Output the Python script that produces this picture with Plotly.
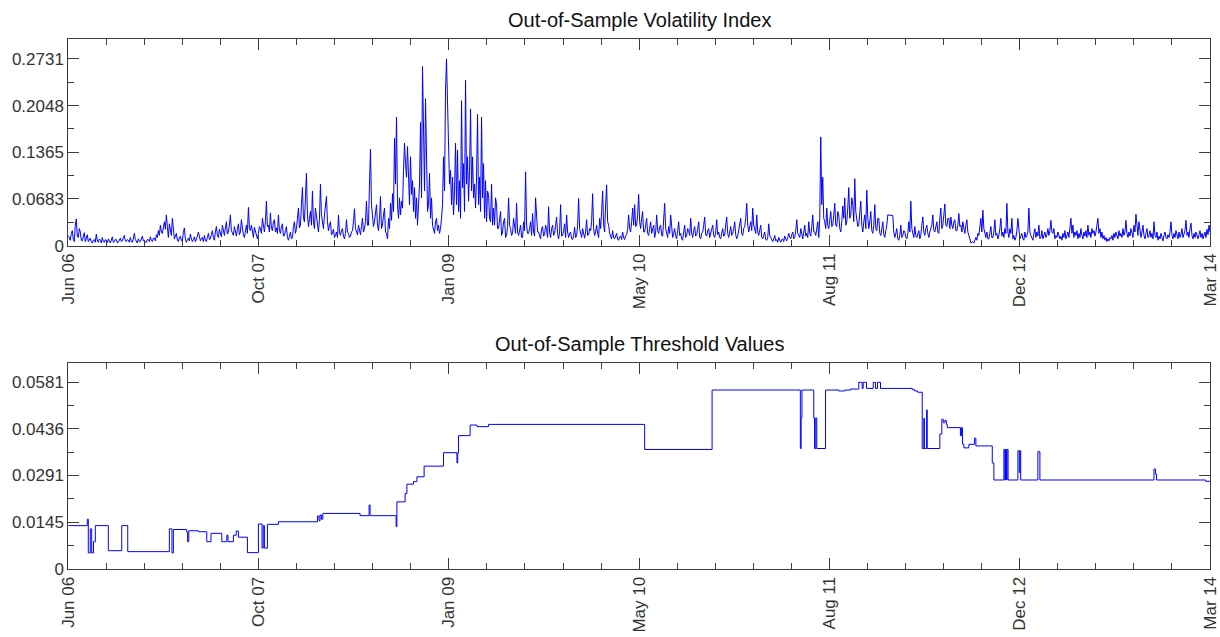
import plotly.graph_objects as go

# Daily out-of-sample volatility index, one value per trading day in the sample
vol_index = [
    0.015, 0.010, 0.008, 0.018, 0.022, 0.009, 0.006, 0.030, 0.039, 0.014, 0.012, 0.025, 0.020, 0.008, 0.007, 0.013, 0.019, 0.006, 0.010, 0.016,
    0.006, 0.009, 0.011, 0.005, 0.004, 0.008, 0.009, 0.005, 0.017, 0.007, 0.005, 0.010, 0.008, 0.004, 0.012, 0.006, 0.005, 0.009, 0.007, 0.004,
    0.010, 0.006, 0.004, 0.008, 0.013, 0.005, 0.006, 0.009, 0.009, 0.004, 0.005, 0.008, 0.011, 0.006, 0.007, 0.012, 0.015, 0.007, 0.006, 0.009,
    0.008, 0.005, 0.012, 0.007, 0.005, 0.010, 0.018, 0.009, 0.007, 0.004, 0.010, 0.006, 0.006, 0.011, 0.014, 0.007, 0.008, 0.005, 0.005, 0.009,
    0.009, 0.006, 0.013, 0.008, 0.006, 0.011, 0.011, 0.007, 0.016, 0.012, 0.022, 0.015, 0.030, 0.020, 0.018, 0.027, 0.035, 0.024, 0.045, 0.028,
    0.012, 0.032, 0.025, 0.015, 0.040, 0.018, 0.010, 0.014, 0.018, 0.008, 0.006, 0.012, 0.014, 0.007, 0.008, 0.019, 0.026, 0.010, 0.005, 0.009,
    0.011, 0.007, 0.017, 0.010, 0.006, 0.009, 0.013, 0.006, 0.009, 0.014, 0.020, 0.010, 0.007, 0.011, 0.012, 0.006, 0.015, 0.008, 0.006, 0.012,
    0.018, 0.009, 0.010, 0.016, 0.022, 0.012, 0.008, 0.020, 0.028, 0.015, 0.012, 0.024, 0.019, 0.013, 0.030, 0.018, 0.015, 0.026, 0.035, 0.017,
    0.020, 0.030, 0.045, 0.022, 0.018, 0.015, 0.028, 0.020, 0.014, 0.024, 0.032, 0.016, 0.020, 0.038, 0.025, 0.015, 0.012, 0.022, 0.030, 0.018,
    0.056, 0.025, 0.022, 0.030, 0.016, 0.012, 0.027, 0.020, 0.013, 0.010, 0.018, 0.028, 0.025, 0.018, 0.040, 0.030, 0.020, 0.035, 0.065, 0.028,
    0.030, 0.020, 0.048, 0.025, 0.022, 0.035, 0.038, 0.020, 0.026, 0.018, 0.045, 0.022, 0.018, 0.028, 0.032, 0.014, 0.015, 0.022, 0.028, 0.012,
    0.008, 0.014, 0.020, 0.010, 0.012, 0.028, 0.035, 0.018, 0.025, 0.040, 0.055, 0.026, 0.030, 0.060, 0.085, 0.040, 0.035, 0.070, 0.106, 0.045,
    0.028, 0.040, 0.050, 0.030, 0.080, 0.035, 0.025, 0.055, 0.045, 0.030, 0.020, 0.038, 0.090, 0.045, 0.030, 0.025, 0.045, 0.060, 0.072, 0.035,
    0.022, 0.030, 0.035, 0.016, 0.018, 0.024, 0.012, 0.015, 0.020, 0.012, 0.045, 0.020, 0.015, 0.022, 0.025, 0.014, 0.010, 0.018, 0.038, 0.020,
    0.018, 0.012, 0.014, 0.020, 0.022, 0.035, 0.054, 0.025, 0.020, 0.016, 0.030, 0.022, 0.016, 0.028, 0.040, 0.020, 0.025, 0.035, 0.065, 0.030,
    0.030, 0.090, 0.141, 0.060, 0.045, 0.028, 0.035, 0.050, 0.060, 0.030, 0.022, 0.040, 0.072, 0.025, 0.030, 0.045, 0.055, 0.020, 0.018, 0.010,
    0.040, 0.025, 0.062, 0.037, 0.076, 0.050, 0.157, 0.090, 0.188, 0.060, 0.040, 0.070, 0.045, 0.065, 0.055, 0.110, 0.150, 0.120, 0.100, 0.145,
    0.085, 0.060, 0.130, 0.075, 0.095, 0.050, 0.085, 0.040, 0.070, 0.030, 0.060, 0.090, 0.180, 0.070, 0.262, 0.120, 0.080, 0.215, 0.095, 0.050,
    0.060, 0.106, 0.040, 0.070, 0.030, 0.025, 0.018, 0.035, 0.040, 0.022, 0.030, 0.018, 0.025, 0.040, 0.060, 0.130, 0.080, 0.228, 0.2731, 0.210,
    0.150, 0.090, 0.110, 0.060, 0.100, 0.045, 0.080, 0.150, 0.060, 0.140, 0.050, 0.095, 0.040, 0.212, 0.085, 0.120, 0.050, 0.242, 0.090, 0.130,
    0.065, 0.110, 0.200, 0.080, 0.130, 0.070, 0.090, 0.055, 0.100, 0.192, 0.060, 0.100, 0.050, 0.188, 0.070, 0.120, 0.040, 0.095, 0.035, 0.080,
    0.075, 0.040, 0.035, 0.090, 0.030, 0.055, 0.030, 0.070, 0.060, 0.025, 0.025, 0.040, 0.050, 0.015, 0.020, 0.035, 0.040, 0.012, 0.015, 0.028,
    0.070, 0.030, 0.025, 0.015, 0.018, 0.040, 0.028, 0.018, 0.062, 0.020, 0.015, 0.025, 0.030, 0.012, 0.012, 0.035, 0.022, 0.108, 0.030, 0.018,
    0.018, 0.025, 0.035, 0.015, 0.047, 0.020, 0.014, 0.070, 0.030, 0.020, 0.020, 0.012, 0.010, 0.025, 0.028, 0.014, 0.016, 0.030, 0.024, 0.012,
    0.057, 0.020, 0.012, 0.025, 0.030, 0.015, 0.018, 0.030, 0.042, 0.018, 0.010, 0.020, 0.060, 0.014, 0.015, 0.022, 0.032, 0.012, 0.045, 0.020,
    0.012, 0.018, 0.020, 0.010, 0.009, 0.015, 0.027, 0.012, 0.014, 0.030, 0.069, 0.025, 0.018, 0.012, 0.025, 0.016, 0.011, 0.020, 0.038, 0.015,
    0.016, 0.025, 0.022, 0.035, 0.076, 0.025, 0.015, 0.020, 0.030, 0.018, 0.012, 0.040, 0.025, 0.050, 0.080, 0.030, 0.020, 0.060, 0.089, 0.035,
    0.030, 0.018, 0.015, 0.010, 0.022, 0.012, 0.010, 0.016, 0.018, 0.009, 0.008, 0.013, 0.014, 0.009, 0.020, 0.012, 0.009, 0.015, 0.016, 0.024,
    0.045, 0.025, 0.020, 0.035, 0.055, 0.030, 0.060, 0.028, 0.030, 0.045, 0.075, 0.035, 0.025, 0.040, 0.050, 0.020, 0.020, 0.030, 0.040, 0.018,
    0.015, 0.025, 0.035, 0.018, 0.025, 0.030, 0.012, 0.020, 0.045, 0.022, 0.018, 0.028, 0.030, 0.015, 0.014, 0.035, 0.062, 0.025, 0.020, 0.012,
    0.028, 0.018, 0.045, 0.020, 0.012, 0.018, 0.025, 0.014, 0.010, 0.022, 0.035, 0.015, 0.018, 0.010, 0.008, 0.020, 0.030, 0.012, 0.015, 0.025,
    0.022, 0.015, 0.040, 0.018, 0.012, 0.022, 0.028, 0.014, 0.016, 0.025, 0.035, 0.012, 0.010, 0.018, 0.020, 0.030, 0.042, 0.016, 0.014, 0.022,
    0.025, 0.012, 0.018, 0.028, 0.030, 0.015, 0.012, 0.020, 0.038, 0.016, 0.020, 0.012, 0.010, 0.018, 0.025, 0.014, 0.015, 0.030, 0.042, 0.018,
    0.012, 0.020, 0.028, 0.015, 0.018, 0.025, 0.035, 0.016, 0.010, 0.014, 0.022, 0.030, 0.040, 0.018, 0.015, 0.025, 0.028, 0.040, 0.062, 0.030,
    0.020, 0.028, 0.035, 0.022, 0.055, 0.030, 0.025, 0.018, 0.045, 0.020, 0.015, 0.022, 0.030, 0.012, 0.010, 0.015, 0.020, 0.009, 0.008, 0.012,
    0.032, 0.015, 0.012, 0.008, 0.006, 0.010, 0.015, 0.007, 0.009, 0.005, 0.012, 0.008, 0.005, 0.009, 0.010, 0.006, 0.014, 0.010, 0.007, 0.012,
    0.018, 0.012, 0.010, 0.016, 0.020, 0.010, 0.012, 0.022, 0.038, 0.018, 0.015, 0.012, 0.025, 0.016, 0.010, 0.020, 0.030, 0.014, 0.018, 0.012,
    0.035, 0.018, 0.014, 0.028, 0.045, 0.020, 0.020, 0.015, 0.028, 0.035, 0.012, 0.040, 0.159, 0.060, 0.100, 0.040, 0.035, 0.025, 0.055, 0.030,
    0.025, 0.040, 0.050, 0.028, 0.030, 0.045, 0.062, 0.030, 0.028, 0.050, 0.045, 0.025, 0.020, 0.035, 0.058, 0.040, 0.070, 0.030, 0.035, 0.055,
    0.085, 0.040, 0.045, 0.070, 0.060, 0.035, 0.098, 0.050, 0.040, 0.028, 0.030, 0.045, 0.065, 0.030, 0.020, 0.035, 0.045, 0.025, 0.081, 0.040,
    0.025, 0.035, 0.050, 0.022, 0.018, 0.030, 0.060, 0.025, 0.022, 0.040, 0.040, 0.018, 0.015, 0.025, 0.035, 0.016, 0.012, 0.022, 0.030, 0.045,
    0.045, 0.045, 0.045, 0.044, 0.044, 0.020, 0.012, 0.018, 0.025, 0.010, 0.008, 0.015, 0.030, 0.012, 0.015, 0.022, 0.020, 0.012, 0.010, 0.018,
    0.035, 0.020, 0.065, 0.025, 0.018, 0.012, 0.028, 0.015, 0.012, 0.020, 0.022, 0.010, 0.015, 0.030, 0.042, 0.020, 0.015, 0.025, 0.030, 0.018,
    0.012, 0.020, 0.025, 0.030, 0.045, 0.022, 0.020, 0.032, 0.035, 0.020, 0.018, 0.040, 0.055, 0.025, 0.030, 0.045, 0.061, 0.030, 0.028, 0.040,
    0.040, 0.025, 0.042, 0.030, 0.025, 0.035, 0.038, 0.022, 0.022, 0.030, 0.047, 0.028, 0.030, 0.020, 0.035, 0.025, 0.018, 0.030, 0.038, 0.020,
    0.012, 0.010, 0.004, 0.005, 0.006, 0.004, 0.010, 0.012, 0.008, 0.018, 0.015, 0.025, 0.040, 0.020, 0.052, 0.025, 0.015, 0.012, 0.020, 0.010,
    0.010, 0.018, 0.028, 0.012, 0.012, 0.020, 0.038, 0.015, 0.018, 0.010, 0.015, 0.025, 0.040, 0.014, 0.020, 0.012, 0.025, 0.018, 0.062, 0.020,
    0.012, 0.025, 0.018, 0.040, 0.010, 0.015, 0.008, 0.012, 0.022, 0.040, 0.028, 0.010, 0.014, 0.018, 0.010, 0.008, 0.020, 0.012, 0.015, 0.020,
    0.055, 0.020, 0.015, 0.010, 0.008, 0.018, 0.025, 0.012, 0.020, 0.014, 0.030, 0.010, 0.012, 0.022, 0.010, 0.015, 0.020, 0.012, 0.016, 0.025,
    0.015, 0.022, 0.037, 0.020, 0.018, 0.025, 0.010, 0.015, 0.012, 0.020, 0.016, 0.010, 0.014, 0.008, 0.018, 0.012, 0.022, 0.010, 0.015, 0.020,
    0.012, 0.025, 0.040, 0.018, 0.030, 0.012, 0.020, 0.015, 0.022, 0.010, 0.018, 0.012, 0.025, 0.015, 0.010, 0.020, 0.014, 0.022, 0.012, 0.030,
    0.015, 0.020, 0.012, 0.025, 0.018, 0.022, 0.014, 0.020, 0.030, 0.040, 0.018, 0.025, 0.012, 0.020, 0.010, 0.015, 0.008, 0.012, 0.006, 0.010,
    0.007, 0.012, 0.010, 0.015, 0.008, 0.018, 0.012, 0.020, 0.015, 0.010, 0.022, 0.014, 0.018, 0.012, 0.025, 0.015, 0.020, 0.037, 0.018, 0.012,
    0.020, 0.014, 0.025, 0.018, 0.012, 0.030, 0.020, 0.046, 0.025, 0.015, 0.035, 0.018, 0.012, 0.020, 0.030, 0.015, 0.010, 0.018, 0.025, 0.012,
    0.015, 0.022, 0.012, 0.018, 0.010, 0.035, 0.015, 0.012, 0.020, 0.008, 0.014, 0.010, 0.018, 0.012, 0.007, 0.015, 0.020, 0.012, 0.010, 0.016,
    0.012, 0.020, 0.035, 0.015, 0.010, 0.018, 0.012, 0.022, 0.014, 0.010, 0.020, 0.012, 0.016, 0.025, 0.012, 0.018, 0.022, 0.037, 0.015, 0.020,
    0.012, 0.025, 0.033, 0.015, 0.010, 0.018, 0.012, 0.020, 0.014, 0.010, 0.016, 0.022, 0.012, 0.018, 0.010, 0.015, 0.020, 0.012, 0.024, 0.016,
    0.030, 0.020,
]

# Threshold: trading day on which each level starts, and the level itself
thr_start = [
    0, 19, 20, 22, 23.4, 25.2, 27, 40, 53.4, 59.4,
    101, 103.6, 105, 118.4, 119.2, 120.4, 130, 138.4, 142.6, 153.4,
    158.4, 159.6, 165, 167.8, 170, 179, 190, 193.6, 194.8, 196,
    199, 210, 249, 250.6, 251.6, 253, 254.4, 291.6, 300.6, 301.6,
    327.6, 328.4, 336.6, 338.4, 345, 348.4, 355.6, 375, 388.4, 389.2,
    390, 401.6, 408.4, 420, 576, 643.4, 731.6, 732.4, 733.2, 745,
    745.8, 747, 748, 756.8, 770, 776, 782, 790, 793.4, 794.4,
    797.7, 804.4, 806.7, 808.7, 811.7, 843.4, 846, 849, 853.4, 855,
    855.6, 857.8, 858.4, 871, 873, 874.4, 876, 877.6, 878.4, 891.6,
    892.6, 893.6, 895, 900, 905.6, 907, 923.4, 925, 935, 936,
    936.6, 937.6, 938.2, 939.2, 949, 950.4, 951, 951.8, 969, 971,
    1085, 1086.6, 1087.6, 1136.6, 1141,
]
thr_value = [
    0.0135, 0.0155, 0.0050, 0.0125, 0.0050, 0.0085, 0.0135, 0.0057, 0.0135, 0.0054,
    0.0125, 0.0050, 0.0123, 0.0115, 0.0085, 0.0119, 0.0116, 0.0085, 0.0111, 0.0085,
    0.0105, 0.0085, 0.0105, 0.0118, 0.0099, 0.0051, 0.0140, 0.0065, 0.0135, 0.0065,
    0.0139, 0.0147, 0.0165, 0.0150, 0.0168, 0.0155, 0.0173, 0.0166, 0.0199, 0.0166,
    0.0132, 0.0209, 0.0235, 0.0264, 0.0272, 0.0287, 0.0320, 0.0362, 0.0330, 0.0362,
    0.0415, 0.0448, 0.0443, 0.0450, 0.0372, 0.0557, 0.0375, 0.0470, 0.0557, 0.0470,
    0.0375, 0.0470, 0.0375, 0.0557, 0.0554, 0.0557, 0.0560, 0.0581, 0.0562, 0.0581,
    0.0562, 0.0581, 0.0562, 0.0581, 0.0562, 0.0558, 0.0554, 0.0550, 0.0375, 0.0469,
    0.0375, 0.0495, 0.0375, 0.0420, 0.0466, 0.0455, 0.0462, 0.0450, 0.0440, 0.0415,
    0.0440, 0.0389, 0.0377, 0.0388, 0.0407, 0.0383, 0.0330, 0.0277, 0.0372, 0.0277,
    0.0372, 0.0277, 0.0372, 0.0277, 0.0368, 0.0300, 0.0368, 0.0277, 0.0365, 0.0277,
    0.0311, 0.0295, 0.0277, 0.0273, 0.0273,
]

date_labels = ["Jun 06", "Oct 07", "Jan 09", "May 10", "Aug 11", "Dec 12", "Mar 14"]
vol_ticks = [0, 0.0683, 0.1365, 0.2048, 0.2731]
vol_tick_text = ["0", "0.0683", "0.1365", "0.2048", "0.2731"]
thr_ticks = [0, 0.0145, 0.0291, 0.0436, 0.0581]
thr_tick_text = ["0", "0.0145", "0.0291", "0.0436", "0.0581"]

W, H = 1220, 637
n_last = len(vol_index) - 1
x_obs = list(range(len(vol_index)))

# equally spaced date labels over the sample, five minor divisions each
n_seg = len(date_labels) - 1
x_major = [n_last * k / n_seg for k in range(n_seg + 1)]
x_minor = [n_last * k / (n_seg * 5) for k in range(n_seg * 5 + 1)]


def mid_ticks(vals):
    return [(a + b) / 2 for a, b in zip(vals[:-1], vals[1:])]


LINE = "#0000ff"
AXIS = "#3c3c3c"
TICKFONT = dict(family="Liberation Sans, Arial, sans-serif", size=17, color="#333333")

fig = go.Figure()
fig.add_trace(go.Scatter(x=x_obs, y=vol_index, mode="lines",
                         line=dict(color=LINE, width=1), xaxis="x", yaxis="y",
                         showlegend=False, hoverinfo="skip"))
fig.add_trace(go.Scatter(x=thr_start, y=thr_value, mode="lines",
                         line=dict(color=LINE, width=1, shape="hv"),
                         xaxis="x2", yaxis="y2", showlegend=False, hoverinfo="skip"))


def px_x(p):
    return p / W


def px_y(p):
    return (H - p) / H


x_dom = [px_x(68.3), px_x(1210)]
common_x = dict(
    range=[0, n_last], domain=x_dom, showgrid=False, zeroline=False,
    automargin=False,
    showline=True, linecolor=AXIS, linewidth=1, mirror="ticks",
    ticks="inside", ticklen=11, tickcolor=AXIS, tickwidth=1,
    tickmode="array", tickvals=x_major, ticktext=date_labels,
    tickangle=-90, tickfont=TICKFONT,
    minor=dict(tickmode="array", tickvals=x_minor, ticks="inside",
               ticklen=6, tickcolor=AXIS, tickwidth=1),
)


def y_axis(ticks, text, dom, anchor):
    top = ticks[-1] * 1.105
    return dict(
        range=[0, top], domain=dom, anchor=anchor, showgrid=False, zeroline=False,
        automargin=False,
        showline=True, linecolor=AXIS, linewidth=1, mirror="ticks",
        ticks="inside", ticklen=11, tickcolor=AXIS, tickwidth=1,
        tickmode="array", tickvals=ticks, ticktext=text, tickfont=TICKFONT,
        minor=dict(tickmode="array", tickvals=mid_ticks(ticks), ticks="inside",
                   ticklen=6, tickcolor=AXIS, tickwidth=1),
    )


fig.update_layout(
    width=W, height=H,
    margin=dict(l=0, r=0, t=0, b=0, autoexpand=False),
    paper_bgcolor="white", plot_bgcolor="white",
    xaxis=dict(common_x, anchor="y"),
    yaxis=y_axis(vol_ticks, vol_tick_text, [px_y(245.7), px_y(39.3)], "x"),
    xaxis2=dict(common_x, anchor="y2"),
    yaxis2=y_axis(thr_ticks, thr_tick_text, [px_y(569), px_y(362.7)], "x2"),
)

title_font = dict(family="Liberation Sans, Arial, sans-serif", size=20, color="#111111")
x_mid = (x_dom[0] + x_dom[1]) / 2
fig.add_annotation(text="Out-of-Sample Volatility Index", xref="paper", yref="paper",
                   x=x_mid, y=px_y(20), xanchor="center", yanchor="middle",
                   showarrow=False, font=title_font)
fig.add_annotation(text="Out-of-Sample Threshold Values", xref="paper", yref="paper",
                   x=x_mid, y=px_y(344), xanchor="center", yanchor="middle",
                   showarrow=False, font=title_font)

fig.write_html("out.html")
